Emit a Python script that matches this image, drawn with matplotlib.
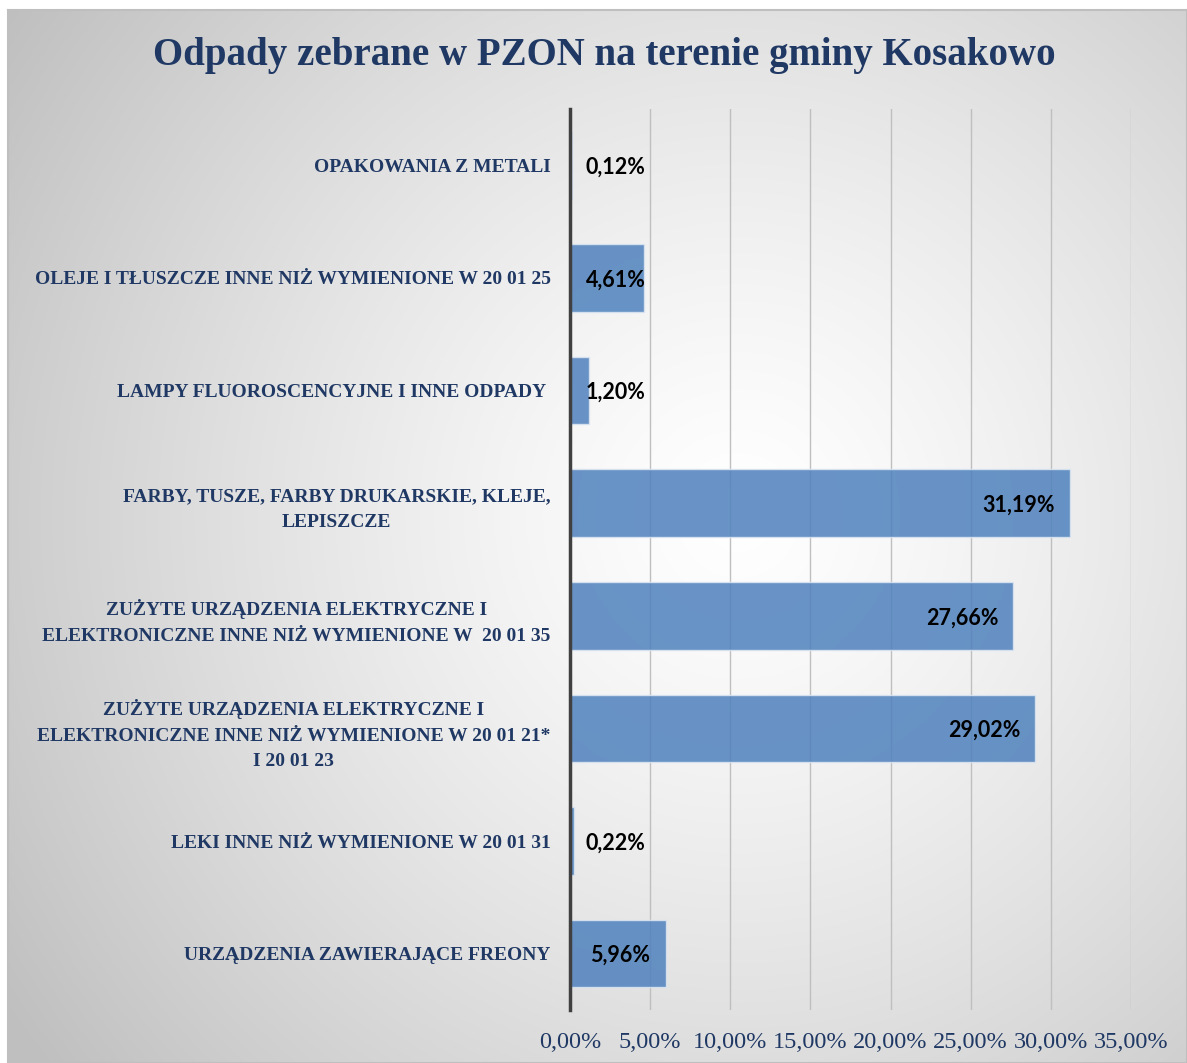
import numpy as np
import matplotlib.pyplot as plt

# === dane ===
categories = [
    "OPAKOWANIA Z METALI",
    "OLEJE I TŁUSZCZE INNE NIŻ WYMIENIONE W 20 01 25",
    "LAMPY FLUOROSCENCYJNE I INNE ODPADY ",
    "FARBY, TUSZE, FARBY DRUKARSKIE, KLEJE,\nLEPISZCZE",
    "ZUŻYTE URZĄDZENIA ELEKTRYCZNE I\nELEKTRONICZNE INNE NIŻ WYMIENIONE W  20 01 35",
    "ZUŻYTE URZĄDZENIA ELEKTRYCZNE I\nELEKTRONICZNE INNE NIŻ WYMIENIONE W 20 01 21*\nI 20 01 23",
    "LEKI INNE NIŻ WYMIENIONE W 20 01 31",
    "URZĄDZENIA ZAWIERAJĄCE FREONY",
]
values = [0.12, 4.61, 1.20, 31.19, 27.66, 29.02, 0.22, 5.96]
xticks = [0, 5, 10, 15, 20, 25, 30, 35]
title = "Odpady zebrane w PZON na terenie gminy Kosakowo"

NAVY = "#1F3864"
W, H = 1187, 1063

fig = plt.figure(figsize=(W / 100, H / 100), dpi=100)
fig.patch.set_facecolor("white")

# === tło z gradientem radialnym ===
bg = fig.add_axes([8 / W, 0, 1 - 8 / W, 1 - 10 / H])
yy, xx = np.mgrid[0:1:400j, 0:1:400j]
r = np.sqrt(((xx - 0.62) / 0.75) ** 2 + ((yy - 0.52) / 0.85) ** 2)
shade = 1.0 - 0.25 * np.clip(r, 0, 1) ** 1.3
bg.imshow(np.dstack([shade] * 3), extent=[0, 1, 0, 1], aspect="auto", origin="lower")
bg.set_xticks([])
bg.set_yticks([])
for s in bg.spines.values():
    s.set_color("#BFBFBF")
    s.set_linewidth(1.5)

fig.text(604 / W, 1 - 55 / H, title, ha="center", va="center",
         fontsize=28, fontweight="bold", family="Liberation Serif", color=NAVY)

# === wykres ===
ax = fig.add_axes([570 / W, 1 - 1010 / H, 561 / W, 901 / H])
ax.patch.set_alpha(0)
y = np.arange(len(categories))
ax.barh(y, values, height=0.6, color="#4F81BD", alpha=0.85,
        edgecolor="#DCE6F2", linewidth=1, zorder=3)

for yi, v in zip(y, values):
    txt = f"{v:.2f}%".replace(".", ",")
    if v > 5.5:
        ax.annotate(txt, (v, yi), xytext=(-15, 0), textcoords="offset pixels",
                    ha="right", va="center_baseline", fontsize=15.5, fontweight="bold",
                    family="Lato", color="black", zorder=4)
    else:
        ax.annotate(txt, (0, yi), xytext=(16, 0), textcoords="offset pixels",
                    ha="left", va="center_baseline", fontsize=15.5, fontweight="bold",
                    family="Lato", color="black", zorder=4)

ax.set_xlim(0, 35)
ax.set_ylim(len(categories) - 0.5, -0.5)
ax.set_xticks(xticks)
ax.set_xticklabels([f"{t:.2f}%".replace(".", ",") for t in xticks],
                   family="Liberation Serif", fontsize=17.5, color=NAVY)
ax.set_yticks(y)
ax.set_yticklabels(categories, family="Liberation Serif", fontweight="bold",
                   fontsize=14, color=NAVY, multialignment="center",
                   linespacing=1.65)
ax.tick_params(axis="x", length=0, pad=16)
ax.tick_params(axis="y", length=0, pad=14)
ax.grid(axis="x", color="#BFBFBF", linewidth=1, zorder=0)
ax.set_axisbelow(True)
for side in ("top", "right", "bottom"):
    ax.spines[side].set_visible(False)
ax.spines["left"].set_color("#404040")
ax.spines["left"].set_linewidth(2.5)
ax.spines["left"].set_zorder(5)

fig.savefig("out.png", dpi=100)
